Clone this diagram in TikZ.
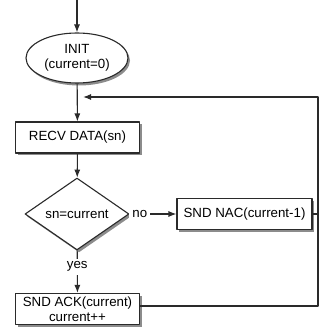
\documentclass[tikz,border=0pt]{standalone}
\usepackage{fontspec}
\setmainfont{Liberation Sans}
\usetikzlibrary{arrows.meta,shapes.geometric,shadows}
\definecolor{flowline}{HTML}{2A2A2A}

\begin{document}
\begin{tikzpicture}[
  x=1pt,
  y=-1pt,
  line join=round,
  font=\fontsize{13.3}{15}\selectfont,
  state/.style={draw=flowline,line width=1.1pt,fill=white,align=center,inner sep=0pt,
    drop shadow={shadow xshift=2pt,shadow yshift=-2.5pt,opacity=0.45,fill=black}},
  stepbox/.style={state,rectangle,minimum width=124,minimum height=31},
  startoval/.style={state,ellipse,minimum width=102,minimum height=50},
  testdiamond/.style={state,diamond,minimum width=104,minimum height=58},
  flow/.style={draw=flowline,line width=1.1pt,-{Latex[length=8pt,width=6pt]}},
  plainflow/.style={draw=flowline,line width=1.1pt},
  tag/.style={fill=white,inner sep=3pt}
]
  \useasboundingbox (0,0) rectangle (320,336);

  % Main states, top to bottom.
  \node[startoval] (init) at (77,58) {INIT\\(current=0)};
  \node[stepbox] (recv) at (77.5,137.5) {RECV DATA(sn)};
  \node[testdiamond] (check) at (77,214) {sn=current};
  \node[stepbox,minimum width=135] (nac) at (244.5,214) {SND NAC(current-1)};
  \node[stepbox] (ack) at (77.5,309) {SND ACK(current)\\current++};

  % Loop corners on the right.
  \coordinate (entry) at (77,0);
  \coordinate (rbot) at (318,306);
  \coordinate (rnac) at (318,214);
  \coordinate (rtop) at (318,97);
  \coordinate (join) at (83,97);
  \coordinate (ackout) at (ack.east |- rbot);

  % Forward flow.
  \draw[flow] (entry) -- (init);
  \draw[flow] (init) -- (recv);
  \draw[flow] (recv) -- (check);
  \draw[flow] (check) -- node[tag,pos=0.22] {no} (nac);
  \draw[flow] (check) -- node[tag,pos=0.38] {yes} (ack);

  % Back to the receive step.
  \draw[plainflow] (nac) -- (rnac);
  \draw[flow] (ackout) -- (rbot) -- (rtop) -- (join);
\end{tikzpicture}
\end{document}
